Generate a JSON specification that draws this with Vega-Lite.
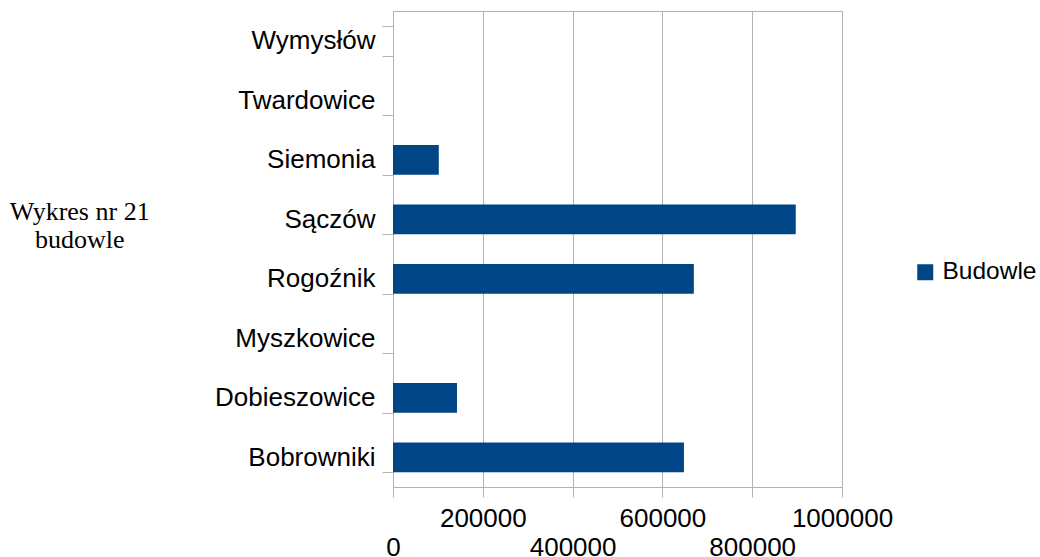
{
  "$schema": "https://vega.github.io/schema/vega-lite/v6.json",
  "width": 449,
  "height": 476,
  "autosize": {"type": "none"},
  "padding": {"left": 393, "top": 11, "right": 198, "bottom": 70},
  "background": "white",
  "config": {"view": {"stroke": "#b3b3b3"}, "font": "Liberation Sans"},
  "title": {
    "text": ["Wykres nr 21", "budowle"],
    "orient": "left",
    "angle": 0,
    "align": "center",
    "baseline": "middle",
    "anchor": "middle",
    "offset": -5,
    "font": "Liberation Serif",
    "fontSize": 26,
    "fontWeight": "normal",
    "color": "black",
    "lineHeight": 28,
    "dy": -37
  },
  "data": {
    "values": [
      {"miejscowosc": "Wymysłów", "wartosc": 0, "seria": "Budowle"},
      {"miejscowosc": "Twardowice", "wartosc": 0, "seria": "Budowle"},
      {"miejscowosc": "Siemonia", "wartosc": 102000, "seria": "Budowle"},
      {"miejscowosc": "Sączów", "wartosc": 897000, "seria": "Budowle"},
      {"miejscowosc": "Rogoźnik", "wartosc": 670000, "seria": "Budowle"},
      {"miejscowosc": "Myszkowice", "wartosc": 0, "seria": "Budowle"},
      {"miejscowosc": "Dobieszowice", "wartosc": 142500, "seria": "Budowle"},
      {"miejscowosc": "Bobrowniki", "wartosc": 648000, "seria": "Budowle"}
    ]
  },
  "mark": {"type": "bar"},
  "encoding": {
    "y": {
      "field": "miejscowosc",
      "type": "nominal",
      "sort": null,
      "scale": {"paddingInner": 0.5, "paddingOuter": 0.25},
      "axis": {
        "title": null,
        "tickBand": "extent",
        "tickSize": 11,
        "tickColor": "#b3b3b3",
        "domainColor": "#b3b3b3",
        "labelFontSize": 26,
        "labelColor": "black",
        "labelPadding": 7,
        "grid": false
      }
    },
    "x": {
      "field": "wartosc",
      "type": "quantitative",
      "scale": {"domain": [0, 1000000], "nice": false},
      "axis": {
        "title": null,
        "values": [0, 200000, 400000, 600000, 800000, 1000000],
        "format": "d",
        "grid": true,
        "gridColor": "#b3b3b3",
        "tickColor": "#b3b3b3",
        "tickSize": 10,
        "domainColor": "#b3b3b3",
        "labelFontSize": 26,
        "labelColor": "black",
        "labelFlush": false,
        "labelOverlap": false,
        "labelPadding": {"condition": {"test": "datum.value % 400000 === 0", "value": 37}, "value": 8}
      }
    },
    "color": {
      "field": "seria",
      "type": "nominal",
      "scale": {"range": ["#004586"]},
      "legend": {
        "title": null,
        "orient": "none",
        "legendX": 520,
        "legendY": 249,
        "symbolType": "square",
        "symbolSize": 256,
        "symbolStrokeWidth": 0,
        "labelFontSize": 24.5,
        "labelColor": "black",
        "labelOffset": 5,
        "padding": 0
      }
    }
  }
}
